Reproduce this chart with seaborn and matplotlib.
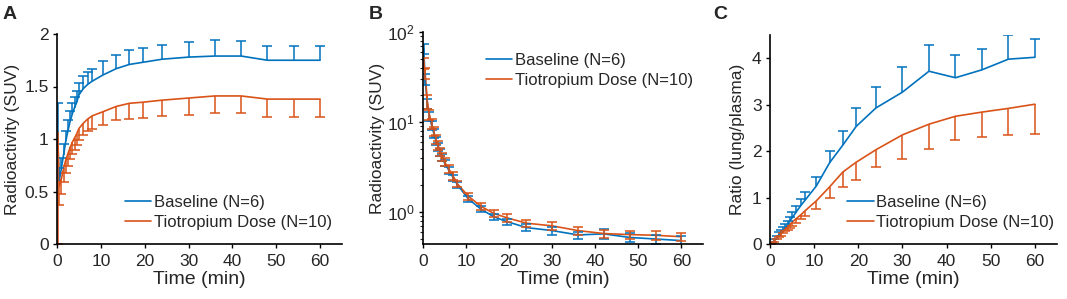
import numpy as np
import pandas as pd
import seaborn as sns
import matplotlib.pyplot as plt
from matplotlib.ticker import LogLocator, NullFormatter

# frame mid times (min)
time = [0.17, 0.5, 1, 1.5, 2, 2.5, 3, 3.5, 4, 4.5, 5, 6, 7, 8, 10.5,
        13.5, 16.5, 19.5, 24, 30, 36, 42, 48, 54, 60]

# A: lung radioactivity (SUV)
lung_base = [1.0, 0.6, 0.72, 0.85, 0.98, 1.08, 1.17, 1.24, 1.30, 1.35, 1.42, 1.48, 1.52,
             1.55, 1.61, 1.67, 1.71, 1.73, 1.76, 1.78, 1.79, 1.79, 1.75, 1.75, 1.75]
lung_base_sd = [0.34, 0.12, 0.1, 0.1, 0.1, 0.1, 0.1, 0.1, 0.1, 0.11, 0.11, 0.12, 0.12,
                0.12, 0.13, 0.13, 0.14, 0.14, 0.14, 0.14, 0.15, 0.14, 0.14, 0.14, 0.14]
lung_tio = [1.07, 0.55, 0.62, 0.72, 0.80, 0.86, 0.92, 0.97, 1.01, 1.05, 1.10, 1.15, 1.19,
            1.22, 1.26, 1.31, 1.34, 1.35, 1.37, 1.39, 1.41, 1.41, 1.38, 1.38, 1.38]
lung_tio_sd = [1.07, 0.18, 0.14, 0.13, 0.12, 0.12, 0.11, 0.11, 0.11, 0.11, 0.11, 0.11, 0.11,
               0.12, 0.13, 0.13, 0.15, 0.15, 0.15, 0.16, 0.16, 0.16, 0.17, 0.17, 0.17]

# B: plasma radioactivity (SUV)
plasma_base = [65, 30, 16, 11.5, 9.2, 7.5, 6.2, 5.3, 4.6, 4.0, 3.5, 2.9, 2.4, 2.0, 1.4,
               1.07, 0.88, 0.78, 0.67, 0.62, 0.555, 0.57, 0.52, 0.5, 0.48]
plasma_base_sd = [8, 4, 2, 1.3, 1.0, 0.8, 0.6, 0.5, 0.4, 0.35, 0.3, 0.25, 0.2, 0.15, 0.1,
                  0.08, 0.07, 0.06, 0.06, 0.06, 0.05, 0.07, 0.06, 0.06, 0.06]
plasma_tio = [45, 35, 17, 12, 9.5, 7.8, 6.4, 5.5, 4.7, 4.1, 3.6, 3.0, 2.5, 2.05, 1.5,
              1.15, 0.96, 0.86, 0.75, 0.70, 0.62, 0.575, 0.56, 0.55, 0.53]
plasma_tio_sd = [6, 5, 3, 1.5, 1.2, 0.9, 0.7, 0.6, 0.5, 0.4, 0.35, 0.3, 0.25, 0.18, 0.14,
                 0.11, 0.09, 0.08, 0.07, 0.07, 0.06, 0.06, 0.06, 0.06, 0.06]

# C: lung/plasma ratio
ratio_base = [0.01, 0.03, 0.08, 0.13, 0.19, 0.24, 0.30, 0.36, 0.42, 0.50, 0.56, 0.70, 0.83,
              0.95, 1.25, 1.75, 2.13, 2.53, 2.93, 3.27, 3.72, 3.58, 3.75, 3.98, 4.02]
ratio_base_sd = [0.01, 0.01, 0.02, 0.04, 0.06, 0.06, 0.07, 0.08, 0.08, 0.08, 0.12, 0.12, 0.14,
                 0.17, 0.19, 0.25, 0.31, 0.40, 0.44, 0.54, 0.57, 0.49, 0.45, 0.52, 0.40]
ratio_tio = [0.01, 0.03, 0.07, 0.12, 0.17, 0.22, 0.27, 0.32, 0.37, 0.42, 0.47, 0.55, 0.63,
             0.72, 0.93, 1.23, 1.55, 1.76, 2.03, 2.35, 2.58, 2.75, 2.84, 2.92, 3.01]
ratio_tio_sd = [0.0, 0.01, 0.02, 0.02, 0.03, 0.04, 0.04, 0.05, 0.06, 0.07, 0.08, 0.09, 0.10,
                0.12, 0.18, 0.23, 0.32, 0.38, 0.38, 0.52, 0.54, 0.52, 0.54, 0.58, 0.65]

groups = ["Baseline (N=6)", "Tiotropium Dose (N=10)"]
blue, orange = "#0072BD", "#D95319"

sns.set_style("ticks")
plt.rcParams['font.family'] = ['Liberation Sans', 'DejaVu Sans']

fig = plt.figure(figsize=(10.67, 2.99), dpi=100)
W, H = 1067, 299
def box(l, r, t, b):
  return [l / W, (H - b) / H, (r - l) / W, (b - t) / H]

axA = fig.add_axes(box(57, 342, 34, 244))
axB = fig.add_axes(box(423, 703, 32, 244))
axC = fig.add_axes(box(770, 1057, 35, 244))

def bars(ax, y, err, color, one_side):
  # one_side: 'up', 'down' or None (both)
  z = np.zeros(len(time))
  yerr = {"up": [z, err], "down": [err, z], None: [err, err]}[one_side]
  _, caps, _ = ax.errorbar(time, y, yerr=yerr, fmt='none', ecolor=color,
                           elinewidth=1.1, capsize=3.5, capthick=1.1)
  if one_side:
    # hide the cap sitting on the line itself
    for c in caps:
      if np.allclose(c.get_ydata(), y):
        c.set_visible(False)

def panel(ax, base, tio, err_b, err_t, both_sides):
  df = pd.DataFrame({"t": time * 2, "v": base + tio,
                     "g": [groups[0]] * len(time) + [groups[1]] * len(time)})
  sns.lineplot(data=df, x="t", y="v", hue="g", palette=[blue, orange],
               lw=1.2, ax=ax, legend=True)
  bars(ax, base, err_b, blue, None if both_sides else "up")
  bars(ax, tio, err_t, orange, None if both_sides else "down")
  ax.set_xlim(0, 65)
  ax.set_xticks([0, 10, 20, 30, 40, 50, 60])
  ax.set_xlabel("Time (min)", fontsize=14, labelpad=2)
  sns.despine(ax=ax)
  for s in ["left", "bottom"]:
    ax.spines[s].set_linewidth(1.2)
    ax.spines[s].set_color("black")
  ax.tick_params(direction='out', length=3, width=1, labelsize=12.5, color='black')
  ax.tick_params(axis='x', pad=4)
  ax.tick_params(axis='y', pad=3)

leg_kw = dict(frameon=False, fontsize=12, handlelength=1.6, handletextpad=0.15,
              labelspacing=0.3, borderaxespad=0.2)

panel(axA, lung_base, lung_tio, lung_base_sd, lung_tio_sd, False)
axA.set_ylim(0, 2)
axA.set_yticks([0, 0.5, 1, 1.5, 2])
axA.set_yticklabels(["0", "0.5", "1", "1.5", "2"])
axA.set_ylabel("Radioactivity (SUV)", fontsize=12.5, labelpad=3)
axA.legend(loc='lower right', bbox_to_anchor=(1.0, 0.02), **leg_kw)

panel(axB, plasma_base, plasma_tio, plasma_base_sd, plasma_tio_sd, True)
axB.set_yscale('log')
axB.set_ylim(0.44, 100)
axB.yaxis.set_major_locator(LogLocator(base=10))
axB.yaxis.set_minor_locator(LogLocator(base=10, subs=np.arange(2, 10)))
axB.yaxis.set_minor_formatter(NullFormatter())
axB.tick_params(which='minor', direction='out', length=2, width=0.8)
axB.set_ylabel("Radioactivity (SUV)", fontsize=12.5, labelpad=1)
axB.legend(loc='upper right', bbox_to_anchor=(1.0, 0.95), **leg_kw)

panel(axC, ratio_base, ratio_tio, ratio_base_sd, ratio_tio_sd, False)
axC.set_ylim(0, 4.5)
axC.set_yticks([0, 1, 2, 3, 4])
axC.set_ylabel("Ratio (lung/plasma)", fontsize=12.5, labelpad=5)
axC.legend(loc='lower right', bbox_to_anchor=(1.025, 0.02), **leg_kw)

for x, lab in [(3, "A"), (369, "B"), (713, "C")]:
  fig.text(x / W, 1 - 6 / H, lab, fontsize=14, fontweight='bold', va='top', ha='left')

plt.savefig("out.png", dpi=100)
plt.close()
